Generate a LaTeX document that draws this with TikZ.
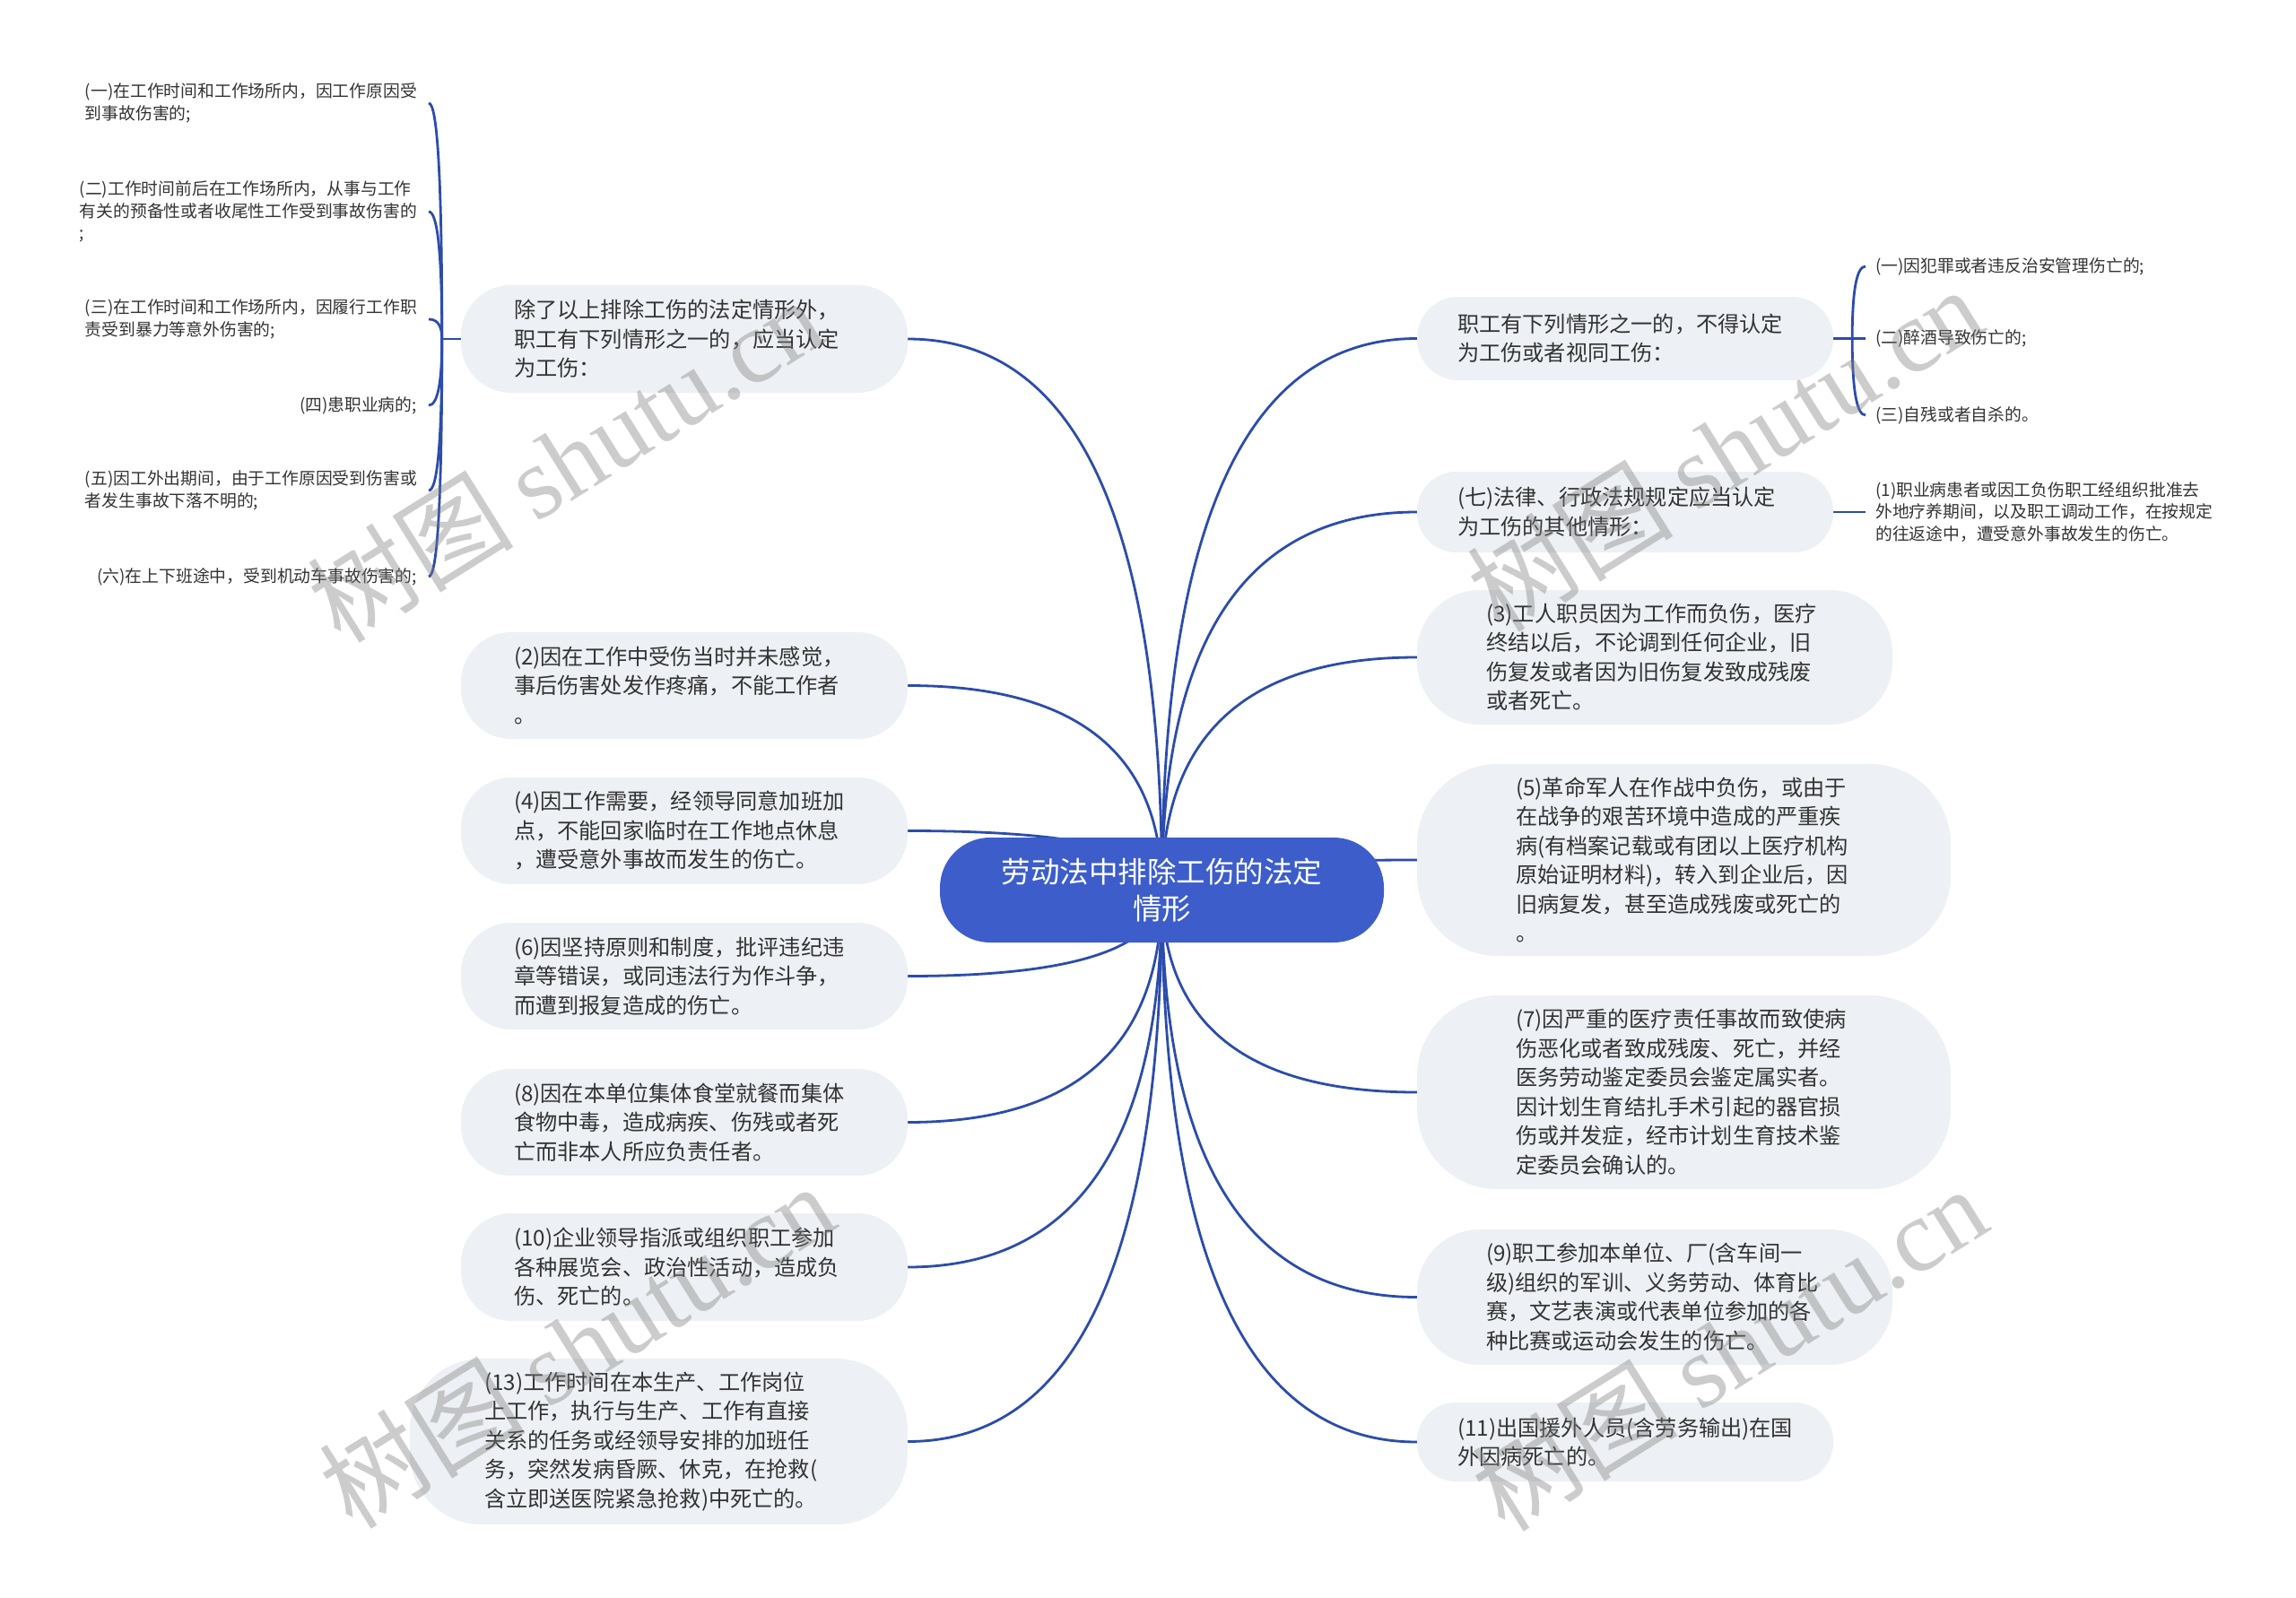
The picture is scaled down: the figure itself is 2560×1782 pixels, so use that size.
\documentclass[tikz,border=0pt]{standalone}
\usepackage{fontspec}
\setmainfont{Noto Sans CJK SC}
\newfontfamily\wmserif{Liberation Serif}
\usetikzlibrary{calc}
\pgfdeclarelayer{bg}
\pgfsetlayers{bg,main}
\definecolor{rootblue}{RGB}{61,93,203}
\definecolor{linkblue}{RGB}{44,76,172}
\definecolor{gfill}{RGB}{237,240,244}
\definecolor{txt}{RGB}{51,51,51}
\newcommand{\qlink}[2]{%
  \coordinate (qc) at (#1 |- #2);
  \draw[link] (#1) .. controls ($(#1)!0.6667!(qc)$) and ($(#2)!0.6667!(qc)$) .. (#2);}
\begin{document}
\begin{tikzpicture}[x=1pt,y=-1pt,
  link/.style={draw=linkblue, line width=2.8pt},
  gnode/.style={fill=gfill, text=txt, inner sep=0pt, align=left, font=\fontsize{24.2}{32.5}\selectfont},
  leaf/.style={text=txt, inner xsep=13pt, inner ysep=2pt, align=left, font=\fontsize{18.8}{24.5}\selectfont},
  rootnode/.style={fill=rootblue, text=white, rounded corners=56pt, minimum width=495pt, minimum height=117pt, align=center, font=\fontsize{32.5}{41}\selectfont, inner sep=0pt},
  wm/.style={text=gray, opacity=0.4, rotate=32, inner sep=0pt, font=\fontsize{115}{120}\selectfont}
]
\useasboundingbox (0,0) rectangle (2560,1782);
% root
\node[rootnode] (root) at (1295.5,992.5) {劳动法中排除工伤的法定\\情形};
% left main nodes
\node[gnode, minimum width=498pt, minimum height=120pt, text width=380pt, rounded corners=56pt] (L1) at (763,378) {除了以上排除工伤的法定情形外，\\职工有下列情形之一的，应当认定\\为工伤：};
\node[gnode, minimum width=498pt, minimum height=119pt, text width=380pt, rounded corners=56pt] (L2) at (763,764.5) {(2)因在工作中受伤当时并未感觉，\\事后伤害处发作疼痛，不能工作者\\。};
\node[gnode, minimum width=498pt, minimum height=119pt, text width=380pt, rounded corners=56pt] (L3) at (763,926.5) {(4)因工作需要，经领导同意加班加\\点，不能回家临时在工作地点休息\\，遭受意外事故而发生的伤亡。};
\node[gnode, minimum width=498pt, minimum height=119pt, text width=380pt, rounded corners=56pt] (L4) at (763,1088.5) {(6)因坚持原则和制度，批评违纪违\\章等错误，或同违法行为作斗争，\\而遭到报复造成的伤亡。};
\node[gnode, minimum width=498pt, minimum height=119pt, text width=380pt, rounded corners=56pt] (L5) at (763,1251.5) {(8)因在本单位集体食堂就餐而集体\\食物中毒，造成病疾、伤残或者死\\亡而非本人所应负责任者。};
\node[gnode, minimum width=498pt, minimum height=120pt, text width=380pt, rounded corners=56pt] (L6) at (763,1413) {(10)企业领导指派或组织职工参加\\各种展览会、政治性活动，造成负\\伤、死亡的。};
\node[gnode, minimum width=555pt, minimum height=185pt, text width=389pt, rounded corners=80pt] (L7) at (734.5,1607.5) {(13)工作时间在本生产、工作岗位\\上工作，执行与生产、工作有直接\\关系的任务或经领导安排的加班任\\务，突然发病昏厥、休克，在抢救(\\含立即送医院紧急抢救)中死亡的。};
% right main nodes
\node[gnode, minimum width=464pt, minimum height=93pt, text width=374pt, rounded corners=46pt] (R1) at (1812,377.5) {职工有下列情形之一的，不得认定\\为工伤或者视同工伤：};
\node[gnode, minimum width=464pt, minimum height=90pt, text width=374pt, rounded corners=44pt] (R2) at (1812,571) {(七)法律、行政法规规定应当认定\\为工伤的其他情形：};
\node[gnode, minimum width=530pt, minimum height=150pt, text width=376pt, rounded corners=70pt] (R3) at (1845,733) {(3)工人职员因为工作而负伤，医疗\\终结以后，不论调到任何企业，旧\\伤复发或者因为旧伤复发致成残废\\或者死亡。};
\node[gnode, minimum width=595pt, minimum height=214pt, text width=375pt, rounded corners=90pt] (R4) at (1877.5,959) {(5)革命军人在作战中负伤，或由于\\在战争的艰苦环境中造成的严重疾\\病(有档案记载或有团以上医疗机构\\原始证明材料)，转入到企业后，因\\旧病复发，甚至造成残废或死亡的\\。};
\node[gnode, minimum width=595pt, minimum height=216pt, text width=375pt, rounded corners=90pt] (R5) at (1877.5,1218) {(7)因严重的医疗责任事故而致使病\\伤恶化或者致成残废、死亡，并经\\医务劳动鉴定委员会鉴定属实者。\\因计划生育结扎手术引起的器官损\\伤或并发症，经市计划生育技术鉴\\定委员会确认的。};
\node[gnode, minimum width=530pt, minimum height=151pt, text width=376pt, rounded corners=70pt] (R6) at (1845,1446.5) {(9)职工参加本单位、厂(含车间一\\级)组织的军训、义务劳动、体育比\\赛，文艺表演或代表单位参加的各\\种比赛或运动会发生的伤亡。};
\node[gnode, minimum width=464pt, minimum height=88pt, text width=374pt, rounded corners=43pt] (R7) at (1812,1608) {(11)出国援外人员(含劳务输出)在国\\外因病死亡的。};
% left leaves
\node[leaf, anchor=east] (a1) at (478,115) {(一)在工作时间和工作场所内，因工作原因受\\到事故伤害的;};
\node[leaf, anchor=east] (a2) at (478,236) {(二)工作时间前后在工作场所内，从事与工作\\有关的预备性或者收尾性工作受到事故伤害的\\;};
\node[leaf, anchor=east] (a3) at (478,356) {(三)在工作时间和工作场所内，因履行工作职\\责受到暴力等意外伤害的;};
\node[leaf, anchor=east] (a4) at (478,452) {(四)患职业病的;};
\node[leaf, anchor=east] (a5) at (478,547) {(五)因工外出期间，由于工作原因受到伤害或\\者发生事故下落不明的;};
\node[leaf, anchor=east] (a6) at (478,643) {(六)在上下班途中，受到机动车事故伤害的;};
% right leaves
\node[leaf, anchor=west, inner xsep=11pt] (b1) at (2080,297) {(一)因犯罪或者违反治安管理伤亡的;};
\node[leaf, anchor=west, inner xsep=11pt] (b2) at (2080,377.5) {(二)醉酒导致伤亡的;};
\node[leaf, anchor=west, inner xsep=11pt] (b3) at (2080,463) {(三)自残或者自杀的。};
\node[leaf, anchor=west, inner xsep=11pt] (c1) at (2080,571) {(1)职业病患者或因工负伤职工经组织批准去\\外地疗养期间，以及职工调动工作，在按规定\\的往返途中，遭受意外事故发生的伤亡。};
% connectors
\begin{pgfonlayer}{bg}
\fill[white] (0,0) rectangle (2560,1782);
\foreach \n in {L1,L2,L3,L4,L5,L6,L7}{\qlink{root.center}{\n.east}}
\foreach \n in {R1,R2,R3,R4,R5,R6,R7}{\qlink{root.center}{\n.west}}
\coordinate (jL) at ($(L1.west)+(-21,0)$);
\draw[link] (L1.west) -- (jL);
\foreach \n in {a1,a2,a3,a4,a5,a6}{\qlink{jL}{\n.east}}
\coordinate (jR) at ($(R1.east)+(21,0)$);
\draw[link] (R1.east) -- (jR);
\foreach \n in {b1,b2,b3}{\qlink{jR}{\n.west}}
\draw[link] (R2.east) -- (c1.west);
\end{pgfonlayer}
% watermarks
\node[wm] (w1) at (630,512) {树图 {\wmserif shutu.cn}};
\node[wm] (w2) at (1923,500) {树图 {\wmserif shutu.cn}};
\node[wm] (w3) at (643,1500) {树图 {\wmserif shutu.cn}};
\node[wm] (w4) at (1928,1503) {树图 {\wmserif shutu.cn}};
\end{tikzpicture}
\end{document}
